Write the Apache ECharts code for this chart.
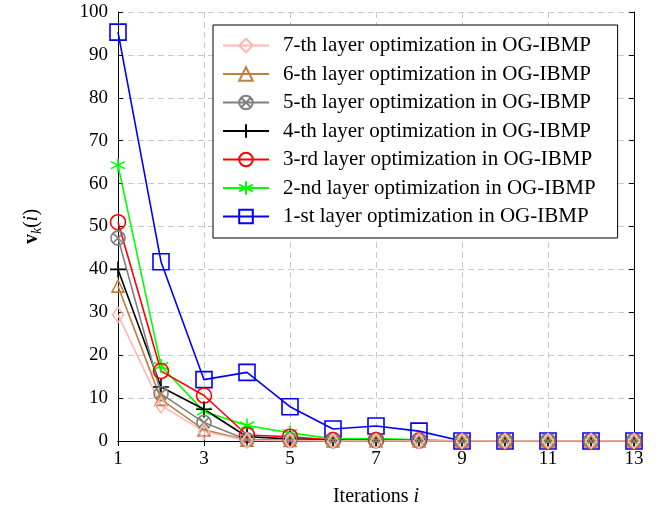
<!DOCTYPE html>
<html><head><meta charset="utf-8">
<script src="https://cdn.jsdelivr.net/npm/echarts@6/dist/echarts.min.js"></script>
<style>html,body{margin:0;padding:0;background:#fff}#c{width:663px;height:516px}</style>
</head><body><div id="c"></div>
<script>
const iterations = ['1','2','3','4','5','6','7','8','9','10','11','12','13'];
const yTicks = [0,10,20,30,40,50,60,70,80,90,100];
const layer1 = [95.3, 41.8, 14.3, 16.0, 8.0, 2.8, 3.5, 2.3, 0, 0, 0, 0, 0];
const layer2 = [64.3, 17.5, 6.9, 3.6, 1.9, 0.5, 0.6, 0.3, 0, 0, 0, 0, 0];
const layer3 = [51.0, 16.3, 10.6, 1.4, 1.0, 0.2, 0.2, 0.1, 0, 0, 0, 0, 0];
const layer4 = [40.0, 12.6, 7.4, 1.0, 0.5, 0.1, 0.1, 0.05, 0, 0, 0, 0, 0];
const layer5 = [47.3, 11.0, 4.3, 0.3, 0.2, 0.05, 0.05, 0.05, 0, 0, 0, 0, 0];
const layer6 = [36.1, 9.7, 2.6, 0.2, 0.1, 0, 0, 0, 0, 0, 0, 0, 0];
const layer7 = [29.4, 8.3, 2.2, 0.1, 0.05, 0, 0, 0, 0, 0, 0, 0, 0];
const names = [
  '7-th layer optimization in OG-IBMP',
  '6-th layer optimization in OG-IBMP',
  '5-th layer optimization in OG-IBMP',
  '4-th layer optimization in OG-IBMP',
  '3-rd layer optimization in OG-IBMP',
  '2-nd layer optimization in OG-IBMP',
  '1-st layer optimization in OG-IBMP'
];
const FONT = '"Liberation Serif", "DejaVu Serif", serif';
const STAR = 'path://M10,0L10,20M1.34,5L18.66,15M1.34,15L18.66,5';
const PLUS = 'path://M10,0L10,20M0,10L20,10';
const OTIMES = 'path://M0,10A10,10,0,1,1,20,10A10,10,0,1,1,0,10ZM2.93,2.93L17.07,17.07M17.07,2.93L2.93,17.07';

function mk(name, data, color, symbol, size, lw) {
  return {
    name: name, type: 'line', data: data,
    symbol: symbol, symbolSize: size, showAllSymbol: true,
    lineStyle: {color: color, width: lw || 1.6},
    itemStyle: {color: 'rgba(0,0,0,0)', borderColor: color, borderWidth: 1.6},
    emphasis: {disabled: true},
    animation: false
  };
}

const series = [
  mk(names[6], layer1, '#0000ff', 'rect', 16),
  mk(names[5], layer2, '#00ff00', STAR, 14),
  mk(names[4], layer3, '#ff0000', 'circle', 15),
  mk(names[3], layer4, '#000000', PLUS, 16),
  mk(names[2], layer5, '#808080', OTIMES, 14),
  mk(names[1], layer6, '#bf8040', 'triangle', 12),
  mk(names[0], layer7, '#ffb6b6', 'diamond', [11, 15])
];

const chart = echarts.init(document.getElementById('c'));
const gridLine = {show: true, lineStyle: {color: '#c8c8c8', type: [6, 4], width: 1}};
chart.setOption({
  animation: false,
  backgroundColor: '#fff',
  grid: {left: 118, top: 12, width: 516, height: 429, containLabel: false},
  legend: {
    data: names, orient: 'vertical', left: 213, top: 25,
    backgroundColor: '#fff', borderColor: '#000', borderWidth: 1,
    padding: [10, 22, 11, 9], itemWidth: 46, itemHeight: 17, itemGap: 7.5,
    textStyle: {fontFamily: FONT, fontSize: 21, color: '#000', lineHeight: 20, padding: [0, 0, 0, 9]}
  },
  xAxis: [{
    type: 'category', data: iterations, boundaryGap: false,
    name: 'Iterations {i|i}', nameLocation: 'middle', nameGap: 46,
    nameTextStyle: {fontFamily: FONT, fontSize: 20, color: '#000',
      rich: {i: {fontFamily: FONT, fontSize: 20, fontStyle: 'italic', color: '#000'}}},
    axisLine: {lineStyle: {color: '#000', width: 1}},
    axisTick: {inside: true, length: 5, interval: 1, lineStyle: {color: '#000'}},
    axisLabel: {interval: 1, fontFamily: FONT, fontSize: 19, color: '#000', margin: 9},
    splitLine: Object.assign({interval: 1}, gridLine)
  }, {
    type: 'category', data: iterations, boundaryGap: false, position: 'top',
    axisLine: {lineStyle: {color: '#000', width: 1}},
    axisTick: {inside: true, length: 5, interval: 1, lineStyle: {color: '#000'}},
    axisLabel: {show: false}, splitLine: {show: false}
  }],
  yAxis: [{
    type: 'value', min: yTicks[0], max: yTicks[yTicks.length - 1], interval: 10,
    name: '{b|v}{k|k}{p|(}{i|i}{p|)}', nameLocation: 'middle', nameGap: 74, nameRotate: 90,
    nameTextStyle: {color: '#000', rich: {
      b: {fontFamily: FONT, fontSize: 20, fontWeight: 'bold', color: '#000', lineHeight: 24},
      k: {fontFamily: FONT, fontSize: 14, fontStyle: 'italic', color: '#000', lineHeight: 12, verticalAlign: 'bottom'},
      p: {fontFamily: FONT, fontSize: 20, color: '#000', lineHeight: 24},
      i: {fontFamily: FONT, fontSize: 20, fontStyle: 'italic', color: '#000', lineHeight: 24}
    }},
    axisLine: {show: true, lineStyle: {color: '#000', width: 1}},
    axisTick: {show: true, inside: true, length: 5, lineStyle: {color: '#000'}},
    axisLabel: {fontFamily: FONT, fontSize: 19, color: '#000', margin: 10},
    splitLine: gridLine
  }, {
    type: 'value', min: yTicks[0], max: yTicks[yTicks.length - 1], interval: 10, position: 'right',
    axisLine: {show: true, lineStyle: {color: '#000', width: 1}},
    axisTick: {show: true, inside: true, length: 5, lineStyle: {color: '#000'}},
    axisLabel: {show: false}, splitLine: {show: false}
  }],
  series: series
});
</script></body></html>
